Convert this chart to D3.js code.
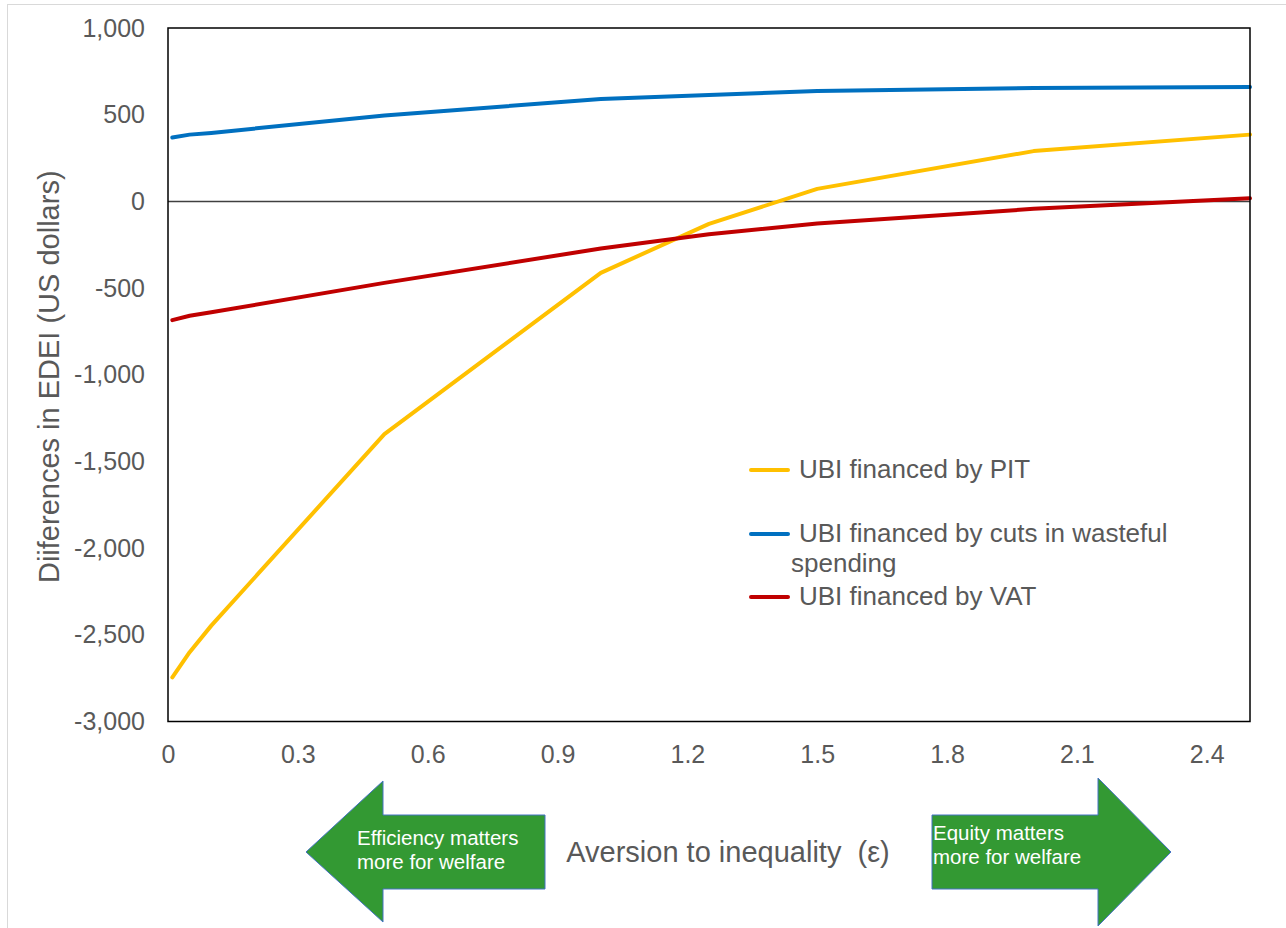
<!DOCTYPE html>
<html>
<head>
<meta charset="utf-8">
<script src="https://cdn.jsdelivr.net/npm/d3@7"></script>
<style>
  html, body { margin: 0; padding: 0; background: #fff; }
  svg { display: block; font-family: Arial, "Liberation Sans", sans-serif; }
</style>
</head>
<body>
<svg id="chart" width="1286" height="928"></svg>
<script>
// Inequality-aversion parameter values (epsilon)
const epsilon = [0.01, 0.05, 0.1, 0.5, 1.0, 1.25, 1.5, 2.0, 2.5];

// Differences in EDEI (US dollars) for each financing scheme
const pitValues   = [-2745, -2600, -2447, -1342, -412, -130, 72, 290, 385];
const wasteValues = [368, 385, 395, 495, 591, 614, 637, 654, 660];
const vatValues   = [-685, -660, -640, -470, -272, -189, -128, -43, 18];

const seriesNames = [
  "UBI financed by PIT",
  "UBI financed by cuts in wasteful spending",
  "UBI financed by VAT"
];
const seriesColors = ["#FFC000", "#0070C0", "#C00000"];

const yTicks = [-3000, -2500, -2000, -1500, -1000, -500, 0, 500, 1000];
const xTicks = [0, 0.3, 0.6, 0.9, 1.2, 1.5, 1.8, 2.1, 2.4];

const svg = d3.select("#chart");
const plot = { left: 168, top: 28, right: 1250, bottom: 721.5 };
const fontFamily = "Arial, 'Liberation Sans', sans-serif";

// outer chart frame
svg.append("rect")
  .attr("x", 7.5).attr("y", 4.5)
  .attr("width", 1300).attr("height", 940)
  .attr("fill", "none").attr("stroke", "#D9D9D9").attr("stroke-width", 1);

const x = d3.scaleLinear().domain([0, 2.5]).range([plot.left, plot.right]);
const y = d3.scaleLinear().domain([-3000, 1000]).range([plot.bottom, plot.top]);

const labelColor = "#595959";
const fmt = d3.format(",");

// y axis tick labels (plain hyphen for negatives)
const yAxis = d3.axisLeft(y).tickValues(yTicks)
  .tickFormat(d => fmt(d).replace("\u2212", "-"))
  .tickSize(0).tickPadding(23);
const gy = svg.append("g").attr("transform", `translate(${plot.left},0)`).call(yAxis);
gy.select(".domain").remove();
gy.selectAll("text").attr("fill", labelColor).style("font-size", "25px")
  .attr("font-family", fontFamily);

// x axis tick labels
const xAxis = d3.axisBottom(x).tickValues(xTicks)
  .tickFormat(d => d === 0 ? "0" : d3.format(".1f")(d))
  .tickSize(0).tickPadding(24);
const gx = svg.append("g").attr("transform", `translate(0,${plot.bottom})`).call(xAxis);
gx.select(".domain").remove();
gx.selectAll("text").attr("fill", labelColor).style("font-size", "25px")
  .attr("font-family", fontFamily);

// zero line
svg.append("line")
  .attr("x1", plot.left).attr("x2", plot.right)
  .attr("y1", y(0)).attr("y2", y(0))
  .attr("stroke", "#404040").attr("stroke-width", 1.5);

// series lines
const series = [pitValues, wasteValues, vatValues];
const line = d3.line().x((d, i) => x(epsilon[i])).y(d => y(d));
series.forEach((vals, k) => {
  svg.append("path")
    .datum(vals)
    .attr("d", line)
    .attr("fill", "none")
    .attr("stroke", seriesColors[k])
    .attr("stroke-width", 4)
    .attr("stroke-linejoin", "round")
    .attr("stroke-linecap", "round");
});

// plot frame
svg.append("rect")
  .attr("x", plot.left).attr("y", plot.top)
  .attr("width", plot.right - plot.left).attr("height", plot.bottom - plot.top)
  .attr("fill", "none").attr("stroke", "#000").attr("stroke-width", 1.5);

// y axis title
svg.append("text")
  .attr("transform", `translate(59,${(plot.top + plot.bottom) / 2 + 2}) rotate(-90)`)
  .attr("text-anchor", "middle")
  .attr("fill", labelColor)
  .style("font-size", "29px")
  .text("Diiferences in EDEI (US dollars)");

// legend
const legend = svg.append("g");
const legendRows = [
  { y: 470, lines: ["UBI financed by PIT"] },
  { y: 534, lines: ["UBI financed by cuts in wasteful", "spending"] },
  { y: 597, lines: ["UBI financed by VAT"] }
];
legendRows.forEach((row, k) => {
  legend.append("line")
    .attr("x1", 751).attr("x2", 788)
    .attr("y1", row.y).attr("y2", row.y)
    .attr("stroke", seriesColors[k]).attr("stroke-width", 4)
    .attr("stroke-linecap", "round");
  const t = legend.append("text")
    .attr("fill", labelColor)
    .style("font-size", "26px");
  row.lines.forEach((ln, j) => {
    t.append("tspan")
      .attr("x", j === 0 ? 799 : 791)
      .attr("y", row.y + 8 + j * 30)
      .text(ln);
  });
});

// x axis title
svg.append("text")
  .attr("x", 728).attr("y", 862)
  .attr("text-anchor", "middle")
  .attr("fill", labelColor)
  .style("font-size", "29px")
  .style("white-space", "pre")
  .text("Aversion to inequality \u00A0(ε)");

// direction arrows
const arrowFill = "#339933";
const arrowStroke = "#4472C4";
const leftArrow = [[306, 852], [383, 781], [383, 815], [545, 815], [545, 889], [383, 889], [383, 922]];
const rightArrow = [[932, 815], [1098, 815], [1098, 778], [1171, 852], [1098, 926], [1098, 889], [932, 889]];
[leftArrow, rightArrow].forEach(pts => {
  svg.append("path")
    .attr("d", d3.line()(pts) + "Z")
    .attr("fill", arrowFill)
    .attr("stroke", arrowStroke)
    .attr("stroke-width", 1);
});

const arrowText = [
  { x: 357, y: 845, lines: ["Efficiency matters", "more for welfare"] },
  { x: 933, y: 840, lines: ["Equity matters", "more for welfare"] }
];
arrowText.forEach(a => {
  const t = svg.append("text").attr("fill", "#fff").style("font-size", "20.5px");
  a.lines.forEach((ln, j) => {
    t.append("tspan").attr("x", a.x).attr("y", a.y + j * 23.5).text(ln);
  });
});
</script>
</body>
</html>
